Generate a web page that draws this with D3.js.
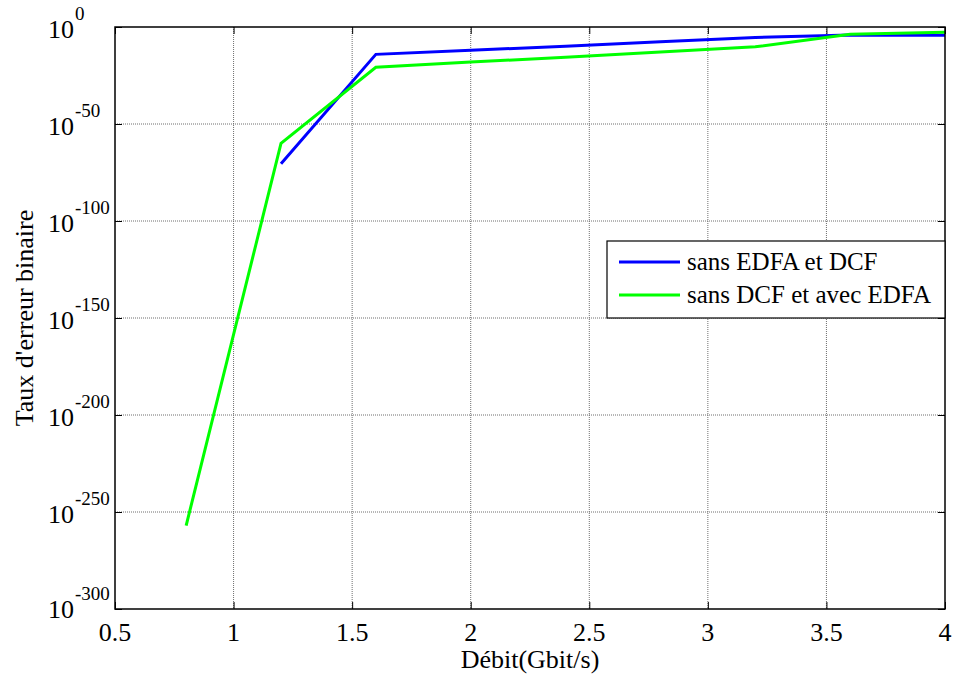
<!DOCTYPE html>
<html>
<head>
<meta charset="utf-8">
<script src="https://cdn.jsdelivr.net/npm/d3@7"></script>
<style>
  html, body { margin: 0; padding: 0; background: #fff; }
</style>
</head>
<body>
<svg id="chart" width="954" height="675" font-family="'Liberation Serif', 'Times New Roman', 'DejaVu Serif', serif"></svg>
<script>
// ---- data ----
const xBlue = [1.2, 1.6, 2.0, 2.4, 2.8, 3.2, 3.6, 4.0];
const berBlue = [3e-71, 8e-15, 1e-12, 1.3e-10, 2.5e-8, 4e-6, 8e-5, 5e-5];
const xGreen = [0.8, 1.2, 1.6, 2.0, 2.4, 2.8, 3.2, 3.6, 4.0];
const berGreen = [1e-257, 1e-60, 1.6e-21, 8e-19, 2.5e-16, 1.3e-13, 6e-11, 1.6e-4, 2e-3];
const xTicks = [0.5, 1, 1.5, 2, 2.5, 3, 3.5, 4];
const xTickLabels = ["0.5", "1", "1.5", "2", "2.5", "3", "3.5", "4"];
const yTickExps = [0, -50, -100, -150, -200, -250, -300];
const seriesNames = ["sans EDFA et DCF", "sans DCF et avec EDFA"];
const seriesColors = ["#0000ff", "#00ff00"];

// ---- layout ----
const FONT = "'Liberation Serif', 'Times New Roman', 'DejaVu Serif', serif";
const svg = d3.select("#chart");
const L = 115, R = 945, T = 27, B = 609;
const x = d3.scaleLinear().domain([0.5, 4]).range([L, R]);
const y = d3.scaleLog().domain([1e-300, 1]).range([B, T]);

// grid
const grid = svg.append("g");
grid.selectAll("line.gx").data(xTicks.slice(1, -1)).enter().append("line")
  .attr("x1", d => x(d)).attr("x2", d => x(d)).attr("y1", T).attr("y2", B)
  .attr("stroke", "#6e6e6e").attr("stroke-width", 1).attr("stroke-dasharray", "1,1");
grid.selectAll("line.gy").data(yTickExps.slice(1, -1)).enter().append("line")
  .attr("x1", L).attr("x2", R).attr("y1", d => y(Math.pow(10, d))).attr("y2", d => y(Math.pow(10, d)))
  .attr("stroke", "#6e6e6e").attr("stroke-width", 1).attr("stroke-dasharray", "1,1");

// axes with inner ticks
const tickLen = 7;
const ax = svg.append("g");
const xAxisB = d3.axisBottom(x).tickValues(xTicks).tickSize(-tickLen).tickFormat("");
const xAxisT = d3.axisTop(x).tickValues(xTicks).tickSize(-tickLen).tickFormat("");
const yAxisL = d3.axisLeft(y).tickValues(yTickExps.map(e => Math.pow(10, e))).tickSize(-tickLen).tickFormat("");
const yAxisR = d3.axisRight(y).tickValues(yTickExps.map(e => Math.pow(10, e))).tickSize(-tickLen).tickFormat("");
ax.append("g").attr("transform", `translate(0,${B})`).call(xAxisB);
ax.append("g").attr("transform", `translate(0,${T})`).call(xAxisT);
ax.append("g").attr("transform", `translate(${L},0)`).call(yAxisL);
ax.append("g").attr("transform", `translate(${R},0)`).call(yAxisR);
ax.selectAll(".domain").remove();
ax.selectAll(".tick line").attr("stroke", "#000").attr("stroke-width", 1);

// tick labels
svg.append("g").selectAll("text").data(xTicks).enter().append("text")
  .attr("x", d => x(d)).attr("y", 641).attr("font-family", FONT)
  .attr("text-anchor", "middle").attr("font-size", 26)
  .text((d, i) => xTickLabels[i]);

const yl = svg.append("g").selectAll("g").data(yTickExps).enter().append("g")
  .attr("transform", d => `translate(0,${y(Math.pow(10, d))})`);
yl.append("text").attr("x", 74).attr("y", d => d === -300 ? 9 : 11).attr("font-family", FONT)
  .attr("text-anchor", "end").attr("font-size", 26).text("10");
yl.append("text").attr("x", 75).attr("y", d => d === -300 ? -9 : -7).attr("font-family", FONT)
  .attr("text-anchor", "start").attr("font-size", 19).text(d => d === 0 ? "0" : "-" + Math.abs(d));

// axis labels
svg.append("text").attr("x", (L + R) / 2).attr("y", 668).attr("text-anchor", "middle").attr("font-family", FONT)
  .attr("font-size", 26).text("Débit(Gbit/s)");
svg.append("text").attr("transform", `translate(33,${(T + B) / 2}) rotate(-90)`).attr("font-family", FONT)
  .attr("text-anchor", "middle").attr("font-size", 26).text("Taux d'erreur binaire");

// clip
svg.append("clipPath").attr("id", "clip").append("rect")
  .attr("x", L).attr("y", T - 4).attr("width", R - L).attr("height", B - T + 4);

// lines
const line = d3.line().x(d => x(d[0])).y(d => y(d[1]));
const plot = svg.append("g").attr("clip-path", "url(#clip)");
plot.append("path").datum(xBlue.map((v, i) => [v, berBlue[i]]))
  .attr("d", line).attr("fill", "none").attr("stroke", seriesColors[0]).attr("stroke-width", 3);
plot.append("path").datum(xGreen.map((v, i) => [v, berGreen[i]]))
  .attr("d", line).attr("fill", "none").attr("stroke", seriesColors[1]).attr("stroke-width", 3);

// box
svg.append("rect").attr("x", L).attr("y", T).attr("width", R - L).attr("height", B - T)
  .attr("fill", "none").attr("stroke", "#000").attr("stroke-width", 1.5);

// legend
const lg = svg.append("g");
lg.append("rect").attr("x", 607).attr("y", 241).attr("width", 338).attr("height", 77)
  .attr("fill", "#fff").attr("stroke", "#000").attr("stroke-width", 1.2);
seriesNames.forEach((n, i) => {
  const yy = 262 + i * 33;
  lg.append("line").attr("x1", 619).attr("x2", 680).attr("y1", yy).attr("y2", yy)
    .attr("stroke", seriesColors[i]).attr("stroke-width", 3);
  lg.append("text").attr("x", 687).attr("y", yy + 8).attr("font-family", FONT)
    .attr("font-size", 25).text(n);
});
</script>
</body>
</html>
